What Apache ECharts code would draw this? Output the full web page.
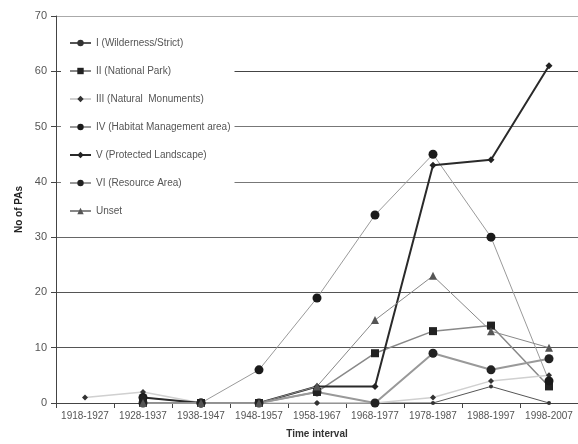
<!DOCTYPE html>
<html>
<head>
<meta charset="utf-8">
<script src="https://cdn.jsdelivr.net/npm/echarts@6/dist/echarts.min.js"></script>
<style>
  html, body { margin: 0; padding: 0; background: #fff; }
  #chart { width: 578px; height: 444px; }
</style>
</head>
<body>
<div id="chart"></div>
<script>
// time intervals on the x axis
const intervals = ['1918-1927', '1928-1937', '1938-1947', '1948-1957', '1958-1967',
  '1968-1977', '1978-1987', '1988-1997', '1998-2007'];

// number of PAs per IUCN category
const wilderness = [null, null, null, null, 0, 0, 0, 3, 0];
const nationalPark = [null, 0, 0, 0, 2, 9, 13, 14, 3];
const naturalMonuments = [1, 2, 0, 0, 0, 0, 1, 4, 5];
const habitatArea = [null, 1, 0, 6, 19, 34, 45, 30, 4];
const protectedLandscape = [null, 1, 0, 0, 3, 3, 43, 44, 61];
const resourceArea = [null, 0, 0, 0, 2, 0, 9, 6, 8];
const unset = [null, 0, 0, 0, 3, 15, 23, 13, 10];

const yTicks = [0, 10, 20, 30, 40, 50, 60, 70];

const myChart = echarts.init(document.getElementById('chart'));

function lineSeries(name, data, lineColor, lineWidth, symbol, size, markColor) {
  return {
    name: name,
    type: 'line',
    data: data,
    symbol: symbol,
    symbolSize: size,
    showAllSymbol: true,
    connectNulls: false,
    lineStyle: { color: lineColor, width: lineWidth },
    itemStyle: { color: markColor, borderWidth: 0 },
    emphasis: { disabled: true },
    animation: false
  };
}

const option = {
  backgroundColor: '#fff',
  textStyle: { fontFamily: 'Liberation Sans' },
  grid: {
    left: 56,
    top: 16,
    width: 528,
    height: 388
  },
  legend: {
    orient: 'vertical',
    left: 61,
    top: 32,
    padding: [6, 4, 6, 8],
    itemGap: 18,
    itemWidth: 21,
    itemHeight: 8,
    backgroundColor: '#fff',
    textStyle: { fontSize: 10, color: '#555', fontFamily: 'Liberation Sans' }
  },
  xAxis: {
    type: 'category',
    data: intervals,
    boundaryGap: true,
    name: 'Time interval',
    nameLocation: 'middle',
    nameGap: 26,
    nameTextStyle: { fontSize: 10, fontWeight: 'bold', color: '#333' },
    axisLine: { lineStyle: { color: '#444', width: 1 } },
    axisTick: { show: true, length: 5, lineStyle: { color: '#444' } },
    axisLabel: { fontSize: 10, color: '#555', margin: 8, interval: 0 },
    splitLine: { show: false }
  },
  yAxis: {
    type: 'value',
    min: yTicks[0],
    max: yTicks[yTicks.length - 1],
    interval: 10,
    name: 'No of PAs',
    nameLocation: 'middle',
    nameGap: 30,
    nameTextStyle: { fontSize: 10, fontWeight: 'bold', color: '#222' },
    axisLine: { show: true, lineStyle: { color: '#444', width: 1 } },
    axisTick: { show: true, length: 5, lineStyle: { color: '#444' } },
    axisLabel: { fontSize: 11, color: '#555', margin: 9 },
    splitLine: {
      show: true,
      lineStyle: {
        color: ['#444', '#555', '#555', '#666', '#777', '#777', '#444', '#aaa'],
        width: 1
      }
    }
  },
  series: [
    lineSeries('I (Wilderness/Strict)', wilderness, '#555', 1, 'circle', 4, '#333'),
    lineSeries('II (National Park)', nationalPark, '#888', 1.5, 'rect', 8, '#222'),
    lineSeries('III (Natural  Monuments)', naturalMonuments, '#d0d0d0', 1.5, 'diamond', 6, '#333'),
    lineSeries('IV (Habitat Management area)', habitatArea, '#9a9a9a', 1, 'circle', 9, '#1a1a1a'),
    lineSeries('V (Protected Landscape)', protectedLandscape, '#2a2a2a', 2, 'diamond', 7, '#222'),
    lineSeries('VI (Resource Area)', resourceArea, '#999', 2, 'circle', 9, '#222'),
    lineSeries('Unset', unset, '#888', 1, 'triangle', 8, '#555')
  ]
};

myChart.setOption(option);
window.addEventListener('resize', function () {
  myChart.resize();
});
</script>
</body>
</html>
